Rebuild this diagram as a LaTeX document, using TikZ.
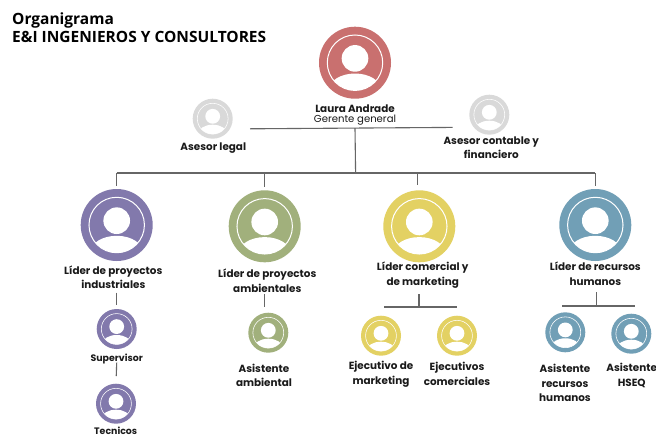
\documentclass[tikz,border=0pt]{standalone}
\usepackage{fontspec}
\setmainfont{Poppins}
\newfontfamily\titlefont{Open Sans}
\definecolor{cred}{HTML}{C9706F}
\definecolor{cpurple}{HTML}{8279AC}
\definecolor{cgreen}{HTML}{A1B07C}
\definecolor{cyellow}{HTML}{E3D163}
\definecolor{cblue}{HTML}{719FB6}
\definecolor{cgray}{HTML}{D9D9D9}
\definecolor{cline}{HTML}{666666}
\definecolor{ctext}{HTML}{1A1A1A}
\tikzset{
  avatarbase/.style={circle,inner sep=0pt,outer sep=0pt,draw=none},
  conn/.style={draw=cline,line width=1.1pt},
  lbl/.style={inner sep=0pt,align=center,text=ctext,font=\bfseries\fontsize{10.4}{14.7}\selectfont},
  lblsmall/.style={lbl,font=\bfseries\fontsize{9.4}{12}\selectfont},
  ttl/.style={inner sep=0pt,anchor=base west,text=black,font=\titlefont\bfseries\fontsize{15.5}{18}\selectfont},
}
% name, x, y, radius, colour
\newcommand{\avatar}[5]{%
  \node[avatarbase,fill=#5,minimum size=#4*2pt] (#1) at (#2,#3) {};
  \begin{scope}[shift={(#2,#3)}]
    \draw[white,line width=#4*0.028pt] (0,0) circle ({#4*0.77});
    \fill[white] (0,{-#4*0.12}) circle ({#4*0.37});
    \begin{scope}
      \clip (0,0) circle ({#4*0.77});
      \fill[white] (0,{#4*0.75}) ellipse ({#4*0.72} and {#4*0.45});
    \end{scope}
  \end{scope}
}
\begin{document}
\begin{tikzpicture}[x=1pt,y=-1pt]
\useasboundingbox (0,0) rectangle (656,437);
\fill[white] (0,0) rectangle (656,437);
\node[ttl] (t1) at (12,24) {Organigrama};
\node[ttl] (t2) at (12,42) {E\&I INGENIEROS Y CONSULTORES};

\avatar{ceo}{355}{62.7}{36}{cred}
\avatar{legal}{212.7}{118.7}{20}{cgray}
\avatar{cont}{489.3}{114.7}{20}{cgray}
\avatar{lp}{116.7}{225}{36}{cpurple}
\avatar{la}{264.7}{226.3}{36}{cgreen}
\avatar{lc}{419.3}{226.3}{36}{cyellow}
\avatar{lr}{595.3}{225}{36}{cblue}
\avatar{sup}{116.7}{329}{20}{cpurple}
\avatar{tec}{116}{403.7}{20}{cpurple}
\avatar{asa}{268.3}{332.7}{20}{cgreen}
\avatar{ejm}{381}{335.7}{20}{cyellow}
\avatar{ejc}{457}{335.7}{20}{cyellow}
\avatar{asr}{565.3}{332.3}{20}{cblue}
\avatar{ash}{631.3}{333.7}{20}{cblue}

\node[lbl] (ceoname) at (355,109) {Laura Andrade};
\node[inner sep=0pt,text=ctext,font=\fontsize{10.1}{12}\selectfont] (ceorole) at (355,120.5) {Gerente general};
\node[lbl] (legalt) at (213.3,147.7) {Asesor legal};
\node[lbl] (contt) at (491.3,147.7) {Asesor contable y\\financiero};
\node[lbl] (lpt) at (113.3,277.3) {Líder de proyectos\\industriales};
\node[lbl] (lat) at (267.3,280.8) {Líder de proyectos\\ambientales};
\node[lbl] (lct) at (422.7,275.2) {Líder comercial y\\de marketing};
\node[lbl] (lrt) at (595.3,273.6) {Líder de recursos\\humanos};
\node[lblsmall] (supt) at (116.7,359.3) {Supervisor};
\node[lblsmall] (tect) at (115.7,431) {Tecnicos};
\node[lbl] (asat) at (264,375.3) {Asistente\\ambiental};
\node[lbl] (ejmt) at (381,374) {Ejecutivo de\\marketing};
\node[lbl] (ejct) at (457,374) {Ejecutivos\\comerciales};
\node[lbl] (asrt) at (565,383) {Asistente\\recursos\\humanos};
\node[lbl] (asht) at (631.7,375.3) {Asistente\\HSEQ};

% staff line and main trunk
\coordinate (staffl) at (250,128.8);
\coordinate (staffr) at (452.7,127.4);
\coordinate (staffm) at (355,128.1);
\coordinate (busm) at (355.6,173);
\coordinate (busp) at (116.7,173);
\coordinate (busa) at (264.7,173);
\coordinate (busc) at (417.5,173);
\coordinate (busr) at (595.3,173);
\draw[conn] (staffl) -- (staffr);
\draw[conn] (staffm) -- (busm);
\draw[conn] (busp) -- (busr);
\draw[conn,shorten >=3pt] (busp) -- (lp.north);
\draw[conn,shorten >=3.3pt] (busa) -- (la.north);
\draw[conn,shorten >=5pt] (busc) -- (busc|-lc.north);
\draw[conn,shorten >=3pt] (busr) -- (lr.north);

% lower level
\coordinate (lpo) at (116.7,292.7);
\draw[conn,shorten >=3.7pt] (lpo) -- (sup.north);
\coordinate (supo) at (116.7,362.7);
\draw[conn,shorten >=7.7pt] (supo) -- (tec.north);
\coordinate (lao) at (264.4,294);
\draw[conn,shorten >=6pt] (lao) -- (lao|-asa.north);
\coordinate (lco) at (419,294);
\coordinate (lcb) at (419,307);
\coordinate (lcl) at (384.3,307);
\coordinate (lcr) at (457.3,307);
\draw[conn] (lco) -- (lcb);
\draw[conn] (lcl) -- (lcr);
\coordinate (lro) at (596.7,292.3);
\coordinate (lrb) at (596.7,306);
\coordinate (lrl) at (562,306);
\coordinate (lrr) at (635,306);
\draw[conn] (lro) -- (lrb);
\draw[conn] (lrl) -- (lrr);
\end{tikzpicture}
\end{document}
